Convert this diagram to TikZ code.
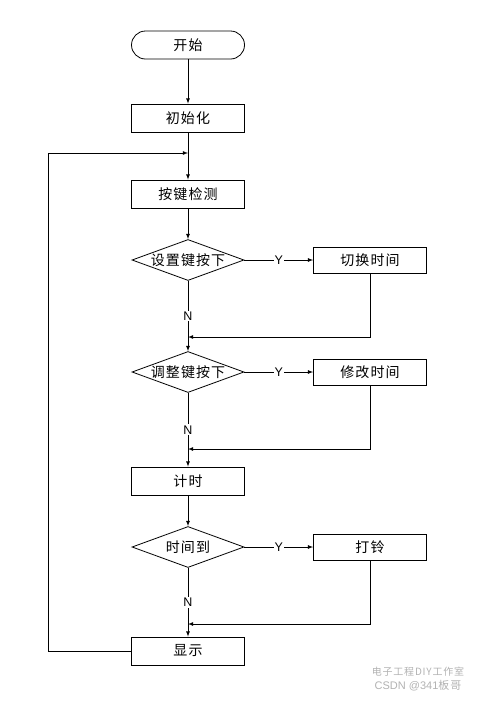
\documentclass[tikz,border=0pt]{standalone}
\usepackage{fontspec}
\setmainfont{Liberation Sans}
\newfontfamily\cjk[LetterSpace=8]{Noto Sans CJK SC}
\usetikzlibrary{shapes.geometric}

\begin{document}
\begin{tikzpicture}[x=1pt,y=-1pt,>=latex,line width=0.8pt,
  box/.style={draw,rectangle,minimum width=113pt,minimum height=28pt,font=\cjk\fontsize{14}{16}\selectfont},
  term/.style={box,rounded corners=14pt},
  test/.style={draw,diamond,aspect=2.7,inner sep=0pt,minimum width=112pt,minimum height=41pt,font=\cjk\fontsize{14}{16}\selectfont},
  yn/.style={font=\fontsize{12.5}{14}\selectfont,fill=white,inner sep=1pt}]
  \useasboundingbox (0,0) rectangle (481,702);
  \node[term] (S0) at (188,45) {开始};
  \node[box,below of=S0,node distance=73pt] (S1) {初始化};
  \node[box,below of=S1,node distance=76pt] (S2) {按键检测};
  \node[test,below of=S2,node distance=66pt] (T1) {设置键按下};
  \node[box,right of=T1,node distance=182pt,minimum height=26pt] (A1) {切换时间};
  \node[test,below of=T1,node distance=112pt] (T2) {调整键按下};
  \node[box,right of=T2,node distance=182pt,minimum height=26pt] (A2) {修改时间};
  \node[box,below of=T2,node distance=109pt] (S3) {计时};
  \node[test,below of=S3,node distance=66pt] (T3) {时间到};
  \node[box,right of=T3,node distance=182pt,minimum height=26pt] (A3) {打铃};
  \node[box,below of=T3,node distance=104pt] (S4) {显示};
  \coordinate (M0) at (188,153);
  \coordinate (L0) at (48,153);
  \coordinate (M1) at (188,337);
  \coordinate (M2) at (188,449);
  \coordinate (M3) at (188,624);
  \draw[->] (S0) -- (S1);
  \draw[->] (S1) -- (S2);
  \draw[->] (S2) -- (T1);
  \draw[->] (T1) -- node[yn]{Y} (A1);
  \draw[->] (T1) -- node[yn]{N} (T2);
  \draw[->] (A1) |- (M1);
  \draw[->] (T2) -- node[yn]{Y} (A2);
  \draw[->] (T2) -- node[yn]{N} (S3);
  \draw[->] (A2) |- (M2);
  \draw[->] (S3) -- (T3);
  \draw[->] (T3) -- node[yn]{Y} (A3);
  \draw[->] (T3) -- node[yn]{N} (S4);
  \draw[->] (A3) |- (M3);
  \draw[->] (S4.west) -| (L0) -- (M0);
  % watermark
  \node[gray!60,font=\cjk\fontsize{10}{12}\selectfont] (W1) at (418,672) {电子工程DIY工作室};
  \node[gray!60,font=\fontsize{11}{13}\selectfont] (W2) at (418,686) {CSDN @341\cjk 板哥};
\end{tikzpicture}
\end{document}
